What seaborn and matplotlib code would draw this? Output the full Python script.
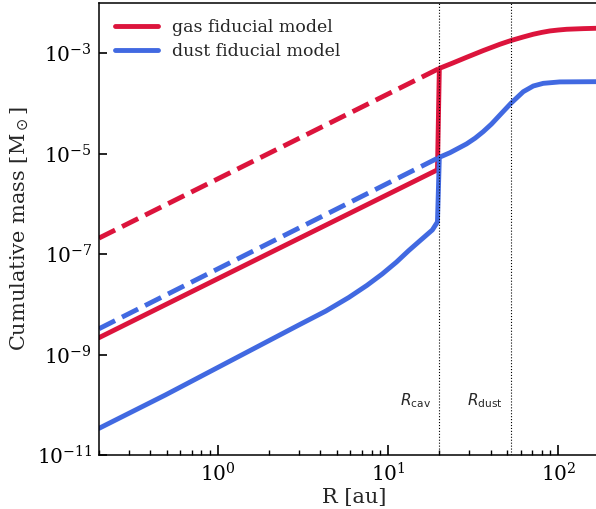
import numpy as np
import pandas as pd
import matplotlib
matplotlib.use("Agg")
import matplotlib.pyplot as plt
import matplotlib.ticker as mticker
import seaborn as sns

# ---- data (R in au, cumulative mass in Msun) ----
gas_R = [0.2, 2.0, 19.5, 20.0, 24.0, 28.9, 36.2, 45.4, 52.7, 62.0, 71.3, 80.0, 89.3,
         100.0, 112.0, 140.0, 167.0, 200.0]
gas_M = [2.19e-9, 1.05e-7, 4.8e-6, 5.0e-4, 6.4e-4, 8.3e-4, 1.13e-3, 1.51e-3, 1.79e-3,
         2.1e-3, 2.39e-3, 2.6e-3, 2.78e-3, 2.9e-3, 3.0e-3, 3.09e-3, 3.14e-3, 3.15e-3]

dust_R = [0.2, 0.49, 1.21, 2.99, 4.3, 5.87, 7.5, 9.23, 11.2, 13.2, 15.5, 18.2, 19.5,
          20.0, 23.1, 28.9, 32.5, 36.2, 40.5, 45.4, 52.7, 62.3, 71.3, 81.6, 102.0,
          167.0, 200.0]
dust_M = [3.44e-11, 1.58e-10, 7.87e-10, 3.92e-9, 7.4e-9, 1.38e-8, 2.4e-8, 4.05e-8,
          7.0e-8, 1.18e-7, 1.9e-7, 3.05e-7, 4.4e-7, 8.5e-6, 1.05e-5, 1.57e-5,
          2.05e-5, 2.75e-5, 3.9e-5, 5.9e-5, 1.01e-4, 1.72e-4, 2.23e-4, 2.52e-4,
          2.69e-4, 2.72e-4, 2.72e-4]

gas_nocav_R = [0.2, 20.0]
gas_nocav_M = [2.1e-7, 5.0e-4]
dust_nocav_R = [0.2, 20.0]
dust_nocav_M = [3.3e-9, 8.5e-6]

R_cav = 20.0
R_dust = 52.7

xticks = [1e0, 1e1, 1e2]
yticks = [1e-11, 1e-9, 1e-7, 1e-5, 1e-3]

# ---- style ----
sns.set_style("ticks")
plt.rcParams.update({
    "font.family": ["DejaVu Serif"],
    "mathtext.fontset": "dejavusans",
    "axes.linewidth": 1.1,
    "axes.edgecolor": "black",
    "xtick.direction": "in",
    "ytick.direction": "in",
    "xtick.color": "black",
    "ytick.color": "black",
    "xtick.major.size": 7,
    "xtick.minor.size": 3.5,
    "ytick.major.size": 6,
    "xtick.major.width": 1.2,
    "xtick.minor.width": 1.0,
    "ytick.major.width": 1.2,
})

fig = plt.figure(figsize=(5.96, 5.09), dpi=100)
W, H = 596, 509
ax = fig.add_axes([99 / W, (H - 455.3) / H, (609.5 - 99) / W, (455.3 - 3.0) / H])

red = "crimson"
blue = "royalblue"
lw = 3.5

sns.lineplot(x=gas_R, y=gas_M, ax=ax, color=red, lw=lw, sort=False, estimator=None,
             label="gas fiducial model")
sns.lineplot(x=gas_nocav_R, y=gas_nocav_M, ax=ax, color=red, lw=lw, ls="--",
             sort=False, estimator=None)
sns.lineplot(x=dust_R, y=dust_M, ax=ax, color=blue, lw=lw, sort=False, estimator=None,
             label="dust fiducial model")
sns.lineplot(x=dust_nocav_R, y=dust_nocav_M, ax=ax, color=blue, lw=lw, ls="--",
             sort=False, estimator=None)

ax.axvline(R_cav, color="k", ls=":", lw=0.8)
ax.axvline(R_dust, color="k", ls=":", lw=0.8)

ax.set_xscale("log")
ax.set_yscale("log")
ax.set_xlim(0.2, 200)
ax.set_ylim(1e-11, 1e-2)
ax.set_xticks(xticks)
ax.set_yticks(yticks)
ax.yaxis.set_minor_locator(mticker.NullLocator())
ax.tick_params(axis="both", which="major", labelsize=14.5, pad=5)

ax.text(14.5, 1.25e-10, r"$R_{\rm cav}$", ha="center", va="center", fontsize=11)
ax.text(37.0, 1.25e-10, r"$R_{\rm dust}$", ha="center", va="center", fontsize=11)

ax.set_xlabel("R [au]", fontsize=15, labelpad=2)
ax.set_ylabel(r"Cumulative mass [M$_\odot$]", fontsize=15)

ax.legend(loc="upper left", frameon=False, fontsize=12.5, handlelength=2.5,
          borderaxespad=0.5, labelspacing=0.45)

fig.savefig("out.png", dpi=100)
